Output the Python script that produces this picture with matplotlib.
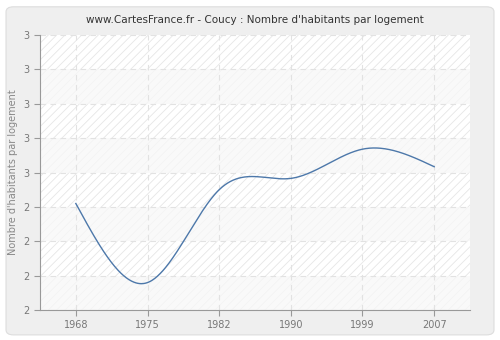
import numpy as np
import matplotlib
matplotlib.use("Agg")
import matplotlib.pyplot as plt
from matplotlib.patches import FancyBboxPatch, Rectangle

years = ["1968", "1975", "1982", "1990", "1999", "2007"]
values = [2.51, 2.28, 2.55, 2.583, 2.668, 2.617]
ytick_values = [2.2, 2.3, 2.4, 2.5, 2.6, 2.7, 2.8, 2.9, 3.0]
ytick_labels = ["2", "2", "2", "2", "3", "3", "3", "3", "3"]


def natural_spline(x, y, xs):
    x = np.asarray(x, float)
    y = np.asarray(y, float)
    n = len(x)
    h = np.diff(x)
    A = np.zeros((n, n))
    b = np.zeros(n)
    A[0, 0] = 1
    A[-1, -1] = 1
    for i in range(1, n - 1):
        A[i, i - 1] = h[i - 1]
        A[i, i] = 2 * (h[i - 1] + h[i])
        A[i, i + 1] = h[i]
        b[i] = 3 * ((y[i + 1] - y[i]) / h[i] - (y[i] - y[i - 1]) / h[i - 1])
    c = np.linalg.solve(A, b)
    out = np.empty_like(xs)
    for k, t in enumerate(xs):
        i = min(max(np.searchsorted(x, t) - 1, 0), n - 2)
        dx = t - x[i]
        bi = (y[i + 1] - y[i]) / h[i] - h[i] * (2 * c[i] + c[i + 1]) / 3
        di = (c[i + 1] - c[i]) / (3 * h[i])
        out[k] = y[i] + bi * dx + c[i] * dx ** 2 + di * dx ** 3
    return out


plt.rcParams["hatch.linewidth"] = 0.6
plt.rcParams["hatch.color"] = "#e6e6e6"

fig = plt.figure(figsize=(5, 3.4), dpi=100)
fig.patch.set_facecolor("white")
frame = FancyBboxPatch((0.012, 0.015), 0.976, 0.965,
                       boxstyle="round,pad=0,rounding_size=0.015",
                       transform=fig.transFigure, facecolor="#efefef",
                       edgecolor="#dddddd", linewidth=0.8, zorder=-10)
fig.patches.append(frame)

ax = fig.add_axes([0.08, 0.088, 0.86, 0.809])
ax.set_zorder(1)
ax.set_facecolor("white")
ax.set_xlim(-0.5, len(years) - 0.5)
ax.set_ylim(ytick_values[0], ytick_values[-1])

# hatched background with alternating light bands
ax.add_patch(Rectangle((0, 0), 1, 1, transform=ax.transAxes, facecolor="white",
                       hatch="////", edgecolor="#e6e6e6", linewidth=0, zorder=0))
for i in range(0, len(ytick_values) - 1, 2):
    ax.axhspan(ytick_values[i], ytick_values[i + 1], color="#f8f8f8", alpha=0.75,
               linewidth=0, zorder=0.5)

xi = np.arange(len(years))
xs = np.linspace(0, len(years) - 1, 400)
ax.plot(xs, natural_spline(xi, values, xs), color="#4d78aa", linewidth=1, zorder=3)

ax.set_xticks(xi)
ax.set_xticklabels(years)
ax.set_yticks(ytick_values)
ax.set_yticklabels(ytick_labels)
ax.grid(True, color="#e2e2e2", linestyle=(0, (5, 4)), linewidth=0.8, zorder=1)
ax.set_axisbelow(True)

for s in ["top", "right"]:
    ax.spines[s].set_visible(False)
for s in ["left", "bottom"]:
    ax.spines[s].set_color("#999999")
ax.tick_params(colors="#999999", labelcolor="#777777", labelsize=7, length=4, width=0.8)

ax.set_ylabel("Nombre d'habitants par logement", color="#888888", fontsize=7)
ax.set_title("www.CartesFrance.fr - Coucy : Nombre d'habitants par logement",
             color="#333333", fontsize=7.5, pad=9)

fig.savefig("out.png", dpi=100, facecolor=fig.get_facecolor())
